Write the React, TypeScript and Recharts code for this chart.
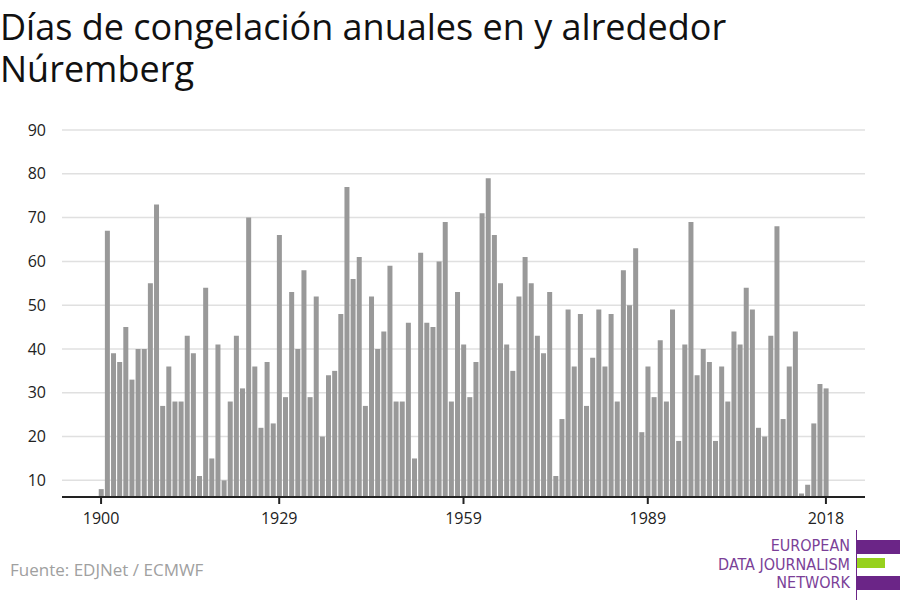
import React from 'react';
import { BarChart, Bar, XAxis, YAxis, CartesianGrid } from 'recharts';

const firstYear = 1900;

// frost days per year, 1900 - 2018 (one line per decade)
const frostDays = [
  8, 67, 39, 37, 45, 33, 40, 40, 55, 73,
  27, 36, 28, 28, 43, 39, 11, 54, 15, 41,
  10, 28, 43, 31, 70, 36, 22, 37, 23, 66,
  29, 53, 40, 58, 29, 52, 20, 34, 35, 48,
  77, 56, 61, 27, 52, 40, 44, 59, 28, 28,
  46, 15, 62, 46, 45, 60, 69, 28, 53, 41,
  29, 37, 71, 79, 66, 55, 41, 35, 52, 61,
  55, 43, 39, 53, 11, 24, 49, 36, 48, 27,
  38, 49, 36, 48, 28, 58, 50, 63, 21, 36,
  29, 42, 28, 49, 19, 41, 69, 34, 40, 37,
  19, 36, 28, 44, 41, 54, 49, 22, 20, 43,
  68, 24, 36, 44, 7, 9, 23, 32, 31,
];

const years = frostDays.map((_, i) => firstYear + i);
const xTickYears = [1900, 1929, 1959, 1989, 2018];
const yTicks = [10, 20, 30, 40, 50, 60, 70, 80, 90];

const data = years.map((year, i) => ({ year, days: frostDays[i] }));

const FONT = '"Open Sans", sans-serif';

const YearTick = (props: any) => {
  const { x, y, payload } = props;
  if (!xTickYears.includes(payload.value)) return null;
  return (
    <g>
      <line x1={x} y1={y} x2={x} y2={y + 7} stroke="#222" strokeWidth={2} />
      <text x={x} y={y + 27} textAnchor="middle" fill="#222" fontSize={16} fontFamily={FONT}>
        {payload.value}
      </text>
    </g>
  );
};

const Logo = () => (
  <div style={{ position: 'absolute', left: 700, top: 530, width: 200, height: 70 }}>
    <div style={{ position: 'absolute', left: 156, top: 0, width: 1, height: 70, background: '#6b2587' }} />
    <div style={{ position: 'absolute', left: 157, top: 10, width: 43, height: 14, background: '#6b2587' }} />
    <div style={{ position: 'absolute', left: 157, top: 28, width: 28, height: 10, background: '#97d11d' }} />
    <div style={{ position: 'absolute', left: 157, top: 46, width: 43, height: 14, background: '#6b2587' }} />
    <div
      style={{
        position: 'absolute',
        right: 50,
        top: 7,
        textAlign: 'right',
        fontFamily: '"Liberation Sans Narrow", "DejaVu Sans", sans-serif',
        fontStretch: 'condensed',
        fontSize: 16,
        lineHeight: '18.5px',
        color: '#7b3f98',
        whiteSpace: 'nowrap',
      }}
    >
      EUROPEAN
      <br />
      DATA JOURNALISM
      <br />
      NETWORK
    </div>
  </div>
);

export default function App() {
  return (
    <div
      style={{
        position: 'absolute',
        left: 0,
        top: 0,
        width: 900,
        height: 600,
        background: '#fff',
        overflow: 'hidden',
        fontFamily: FONT,
      }}
    >
      <div
        style={{
          position: 'absolute',
          left: 0,
          top: 6,
          fontSize: 36,
          lineHeight: '42px',
          color: '#111',
          width: 800,
        }}
      >
        Días de congelación anuales en y alrededor
        <br />
        Núremberg
      </div>

      <div style={{ position: 'absolute', left: 0, top: 0 }}>
        <BarChart
          width={900}
          height={600}
          data={data}
          margin={{ top: 130, right: 35, bottom: 63, left: 0 }}
          barCategoryGap="12%"
        >
          <CartesianGrid vertical={false} stroke="#e0e0e0" strokeWidth={1.5} />
          <XAxis
            dataKey="year"
            type="category"
            interval={0}
            height={40}
            padding={{ left: 36, right: 36 }}
            tickSize={0}
            tickMargin={0}
            tickLine={false}
            axisLine={{ stroke: '#222', strokeWidth: 2 }}
            tick={<YearTick />}
          />
          <YAxis
            width={62}
            domain={[6.2, 90]}
            ticks={yTicks}
            allowDataOverflow
            axisLine={false}
            tickLine={false}
            tickMargin={10}
            tick={{ fill: '#222', fontSize: 16, fontFamily: FONT }}
          />
          <Bar dataKey="days" fill="#999999" isAnimationActive={false} />
        </BarChart>
      </div>

      <div
        style={{
          position: 'absolute',
          left: 10,
          top: 558,
          fontSize: 17,
          color: '#a0a0a0',
          lineHeight: '24px',
        }}
      >
        Fuente: EDJNet / ECMWF
      </div>

      <Logo />
    </div>
  );
}
